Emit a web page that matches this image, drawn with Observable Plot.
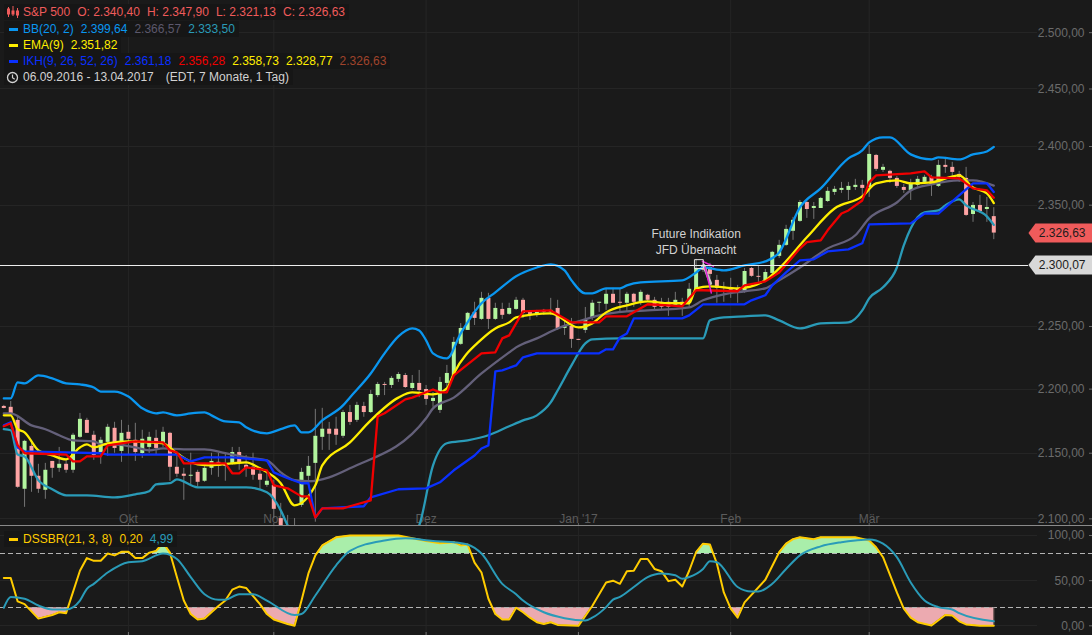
<!DOCTYPE html>
<html><head><meta charset="utf-8">
<script src="https://cdn.jsdelivr.net/npm/d3@7"></script>
<script src="https://cdn.jsdelivr.net/npm/@observablehq/plot@0.6"></script>
<style>
html,body{margin:0;padding:0;background:#1a1a1a}
#wrap{position:relative;width:1092px;height:635px;overflow:hidden;font:12px "Liberation Sans",Arial,sans-serif}
#wrap svg{display:block}
.leg{position:absolute;left:4px;height:16px;line-height:16px;white-space:nowrap;background:#161616;padding:0 4px 0 19px;display:flex;gap:7px}
.dash{position:absolute;left:5px;top:6.5px;width:9px;height:3px}
.ic{position:absolute;left:2px;top:2px}
</style></head><body>
<div id="wrap">
<div id="top"></div><div id="bottom"></div>
<div class="leg" style="top:4px;color:#ef5b5b"><svg class="ic" width="14" height="12" viewBox="0 0 14 12"><g stroke="#ef5b5b" fill="#ef5b5b"><path d="M2.5 1v10M7 0v10M11.500 2v10"/><rect x="1.500" y="3" width="2" height="5"/><rect x="6" y="5" width="2" height="3"/><rect x="10.500" y="5" width="2" height="4"/></g></svg><span>S&amp;P 500</span><span>O: 2.340,40</span><span>H: 2.347,90</span><span>L: 2.321,13</span><span>C: 2.326,63</span></div>
<div class="leg" style="top:21px;color:#0a96f0"><i class="dash" style="background:#0a96f0"></i><span>BB(20, 2)</span><span>2.399,64</span><span style="color:#5c586c">2.366,57</span><span style="color:#2a9bb8">2.333,50</span></div>
<div class="leg" style="top:37px;color:#ffee00"><i class="dash" style="background:#ffee00"></i><span>EMA(9)</span><span>2.351,82</span></div>
<div class="leg" style="top:53px;color:#0a30ff"><i class="dash" style="background:#0a30ff"></i><span>IKH(9, 26, 52, 26)</span><span>2.361,18</span><span style="color:#f00000">2.356,28</span><span style="color:#ffee00">2.358,73</span><span style="color:#ffee00">2.328,77</span><span style="color:#a0442c">2.326,63</span></div>
<div class="leg" style="top:69px;color:#d2d2d2"><svg class="ic" width="13" height="13" viewBox="0 0 13 13"><circle cx="6.500" cy="6.500" r="5" fill="none" stroke="#d2d2d2" stroke-width="1.300"/><path d="M6.500 3.500v3.200l2.200 1.500" fill="none" stroke="#d2d2d2" stroke-width="1.200"/></svg><span>06.09.2016 - 13.04.2017</span><span style="margin-left:5px">(EDT, 7 Monate, 1 Tag)</span></div>
<div class="leg" style="top:531px;color:#ffcc00"><i class="dash" style="background:#ffcc00"></i><span>DSSBR(21, 3, 8)</span><span>0,20</span><span style="color:#2a9bb8">4,99</span></div>
</div>
<script>
const monthTicks=[18,39,61,83,105,125];
const monthLabels=["Okt","Nov","Dez","Jan '17","Feb","Mär"];
const priceTicks=[2100,2150,2200,2250,2300,2350,2400,2450,2500];
const dssTicks=[0,50,100];
const dssLevels=[20,80];
const lastClose=2326.63, markedPrice=2300.07;

const candleDirs=("rrrgrrgrgr"+"ggrrggrgrr"+"ggrgrrrgrg"+"grrgrrrrgr"+"rrgggggrrg"+"rgrggrggrg"+"rrggggggrg"+"rgrggrrgrg"+"rgrrggggrr"+"grgrrrrgrg"+"grrrgrrgrr"+"ggggggrggg"+"ggggrgrgrr"+"rgggrgrrrr"+"grgr").split("");
const highs=[2187.2,2190.3,2179.4,2160,2157.7,2141.5,2142.2,2143.7,2154.5,2144.5,
2165.4,2180.9,2177.1,2167,2162.3,2172.4,2174,2175.5,2171.6,2173.2,
2167.8,2166.2,2167.8,2170.1,2166.2,2150,2138.4,2150,2136.9,2142.2,
2150,2150,2150,2154.5,2154.5,2148.3,2150,2139.2,2136.9,2129.3,
2111.7,2102.6,2100.2,2138.4,2147.5,2184.1,2184.9,2173.9,2177.9,2183.3,
2187.2,2189.6,2189.6,2199,2205.3,2205.3,2210,2213.2,2212.4,2210.8,
2214.8,2202.9,2197.4,2209.3,2218.8,2241.2,2252.3,2261.4,2269.6,2277.7,
2276.9,2268.8,2268.8,2268.8,2273.6,2272.8,2263,2263,2263.8,2272.8,
2271.2,2256.5,2256.5,2239.6,2265.4,2271.2,2269.6,2280.2,2281,2280.2,
2277.7,2276.9,2279.4,2276.1,2273.6,2272.8,2272.8,2277.7,2272.8,2285,
2304.8,2302.3,2301.5,2291.6,2285.9,2289.2,2283.4,2297.3,2298.1,2298.9,
2296.5,2311.4,2320.6,2333.1,2339.8,2354,2353.1,2352.3,2356.6,2365,
2365.9,2369.3,2369.3,2371.9,2371,2400.9,2393.2,2384.7,2379.6,2374.4,
2367.6,2371.9,2374.4,2375.3,2375.3,2388.1,2390.6,2386.4,2378.7,2382.1,
2352.3,2358.3,2356.6,2347.9];
const bodyTops=[2186.4,2185.7,2175.5,2159.2,2155.3,2132.3,2136.9,2143.7,2141.5,2141.5,
2163.9,2176.3,2175.5,2163.9,2160,2170.1,2169.3,2165.4,2166.2,2160,
2160.8,2162.3,2161.5,2166.2,2165.4,2139.2,2133.9,2133.1,2135.3,2138.4,
2143.7,2143,2141.5,2150.6,2150.6,2140.7,2139.2,2133.9,2128.5,2125.4,
2100.2,2092.5,2092.5,2135.3,2139.9,2163.1,2168.6,2168.6,2168.6,2181.6,
2181.6,2187.2,2186.4,2195.8,2203.7,2203.7,2208.5,2211.6,2210.8,2204.5,
2204.5,2199.7,2192.7,2205.3,2212.4,2237.2,2248.4,2260.6,2261.4,2272.8,
2272.8,2264.6,2263.8,2264.6,2271.2,2271.2,2261.4,2262.2,2263,2263,
2264.6,2250,2250,2239.6,2254.9,2268.8,2269.6,2276.1,2276.1,2269.6,
2276.1,2276.1,2277.7,2275.3,2271.2,2269.6,2269.6,2271.2,2269.6,2280.2,
2297.3,2299.8,2298.1,2287.5,2281.8,2281,2280.2,2294.8,2297.3,2290.8,
2294,2310.6,2316.4,2329.7,2337.3,2352.3,2352.3,2348.9,2355.7,2361.7,
2363.4,2364.2,2365.9,2366.8,2366.8,2393.2,2392.3,2382.1,2378.7,2372.7,
2365,2367.6,2371.9,2373.6,2373.6,2383.8,2383.8,2382.1,2376.1,2372.7,
2349.8,2349.8,2348.1,2340.4];
const bodyBottoms=[2184.8,2180.2,2123.9,2122.4,2132.3,2122.4,2121.6,2138.4,2138.4,2136.9,
2136.9,2162.3,2165.4,2148.3,2150.6,2158.4,2153.7,2151.4,2160.8,2150.6,
2149.8,2154.5,2153.7,2157.6,2139.2,2133.9,2132.3,2132.3,2127.7,2128.5,
2138.4,2139.9,2139.9,2142.2,2142.2,2138.4,2133.1,2129.3,2125.4,2107.2,
2089.7,2087,2088,2110.2,2132.3,2142.2,2162.3,2164.7,2163.9,2163.1,
2173.9,2175.5,2181.6,2181.6,2194.9,2202.9,2202.9,2207.7,2201.3,2200.5,
2198.9,2191.9,2190.3,2183.3,2204.5,2210.8,2235.6,2246.8,2256.5,2255.7,
2255.7,2255.7,2259,2259.8,2263.8,2260.6,2259.8,2259.8,2261.4,2261.4,
2248.4,2248.4,2239.6,2238.8,2246.8,2256.5,2268.8,2268,2268.8,2268.8,
2268.8,2269.6,2269.6,2271.2,2265.5,2265.5,2265.5,2267.1,2267.1,2268.8,
2279.4,2295.7,2292.4,2281,2281,2279.4,2277.7,2278.6,2290.8,2290,
2286.7,2293.2,2307.3,2316.4,2328.1,2336.4,2346.4,2347.2,2347.2,2353.1,
2360.8,2362.5,2362.5,2365,2364.2,2365,2380.4,2379.6,2372.7,2365.9,
2362.5,2362.5,2366.8,2369.3,2366.8,2365.9,2382.1,2377.8,2373.6,2341.4,
2342.2,2344.7,2346.4,2326.63];
const lows=[2184.5,2179.4,2123.1,2108.7,2120.1,2119.3,2114.8,2130.8,2135.3,2134.6,
2134.6,2161.5,2165.4,2144.5,2141.5,2147.5,2150,2143,2148.3,2143.7,
2146,2149.8,2148.3,2154.5,2128.5,2131.5,2114,2125.4,2123.9,2127.7,
2133.1,2131.5,2128.5,2140.7,2136.9,2131.5,2129.3,2121.6,2123.9,2100.2,
2088,2084,2085,2108.7,2126.2,2097.5,2152.2,2152.2,2156.1,2161.5,
2171.6,2173.9,2177.9,2180.9,2193.3,2194.9,2200.5,2205.3,2200.5,2198.9,
2193.3,2187.2,2185.7,2180.9,2197.4,2210.8,2234.8,2246.8,2250.8,2254.9,
2247.6,2254.9,2255.7,2259,2263,2256.5,2254.9,2257.3,2259,2259,
2246.8,2242.8,2232.4,2238.8,2244.4,2254.9,2261.4,2263,2268.8,2261.4,
2261.4,2265.5,2267.1,2269.6,2263,2263,2258.2,2265.5,2258.2,2265.5,
2279.4,2294,2289.2,2268.8,2269.6,2272.8,2268.8,2276.9,2290,2285.9,
2285.9,2291.6,2305.6,2315.6,2320.6,2335.6,2338.9,2338.1,2347.2,2352.3,
2358.3,2360,2354,2362.5,2356.6,2356.6,2378.7,2377.8,2368.5,2364.2,
2360,2354,2365,2367.6,2357.4,2365,2377,2373.6,2369.3,2340.6,
2335.6,2343,2335.6,2321.13];

const bbUpperIdx=[0,1,2,3,5,7,9,11,13,14,16,18,20,22,23,25,27,29,30,32,34,35,38,40,42,43,44,46,49,50,53,55,57,59,60,61,62,64,66,69,71,74,77,79,81,82,84,85,87,89,90,92,98,100,101,104,107,110,112,115,118,122,124,125,127,128,131,134,135,138,140,142,143];
const bbUpperVal=[2192.7,2192.7,2205.3,2204.5,2210.8,2208.5,2204.5,2203.7,2201.3,2198.1,2198.1,2194.2,2184.9,2181,2181.8,2179.4,2181,2181.8,2179.4,2174.7,2174,2170.1,2165.4,2168.6,2171.6,2166.2,2166.2,2175.5,2187.2,2193.5,2212.4,2228.4,2242,2248.4,2246.8,2238.8,2228.4,2224.4,2244.4,2268.8,2277.7,2290.8,2298.1,2300.6,2295.7,2287.5,2276.9,2276.9,2281,2281,2283.4,2285.9,2287.5,2294,2298.1,2295.7,2299.8,2303.1,2310.6,2348.1,2364.2,2389.8,2396.6,2403.5,2407.8,2407.8,2393.2,2388.9,2390.6,2388.9,2393.2,2395.7,2399.64];
const bbMidIdx=[0,1,4,6,8,10,13,14,16,19,21,23,26,29,32,35,38,40,42,44,47,50,61,62,65,69,73,74,77,80,83,86,90,93,99,101,104,107,110,112,115,119,123,125,129,131,134,138,140,143];
const bbMidVal=[2181,2181,2171.6,2168.6,2163.9,2160,2159.2,2156.9,2156.9,2154.5,2152.2,2153.7,2153,2153,2150,2146.8,2144.5,2135.3,2129.3,2128.5,2131.5,2138.4,2177.1,2184.9,2193.3,2212.4,2229.2,2233.2,2240.4,2248.4,2254.1,2259,2262.2,2263,2265.5,2271.2,2276.1,2278.6,2281,2287.5,2298.1,2313.9,2324.8,2338.9,2352.3,2362.5,2367.6,2371,2371,2366.57];
const bbLowerIdx=[0,1,2,3,5,7,9,12,16,19,21,22,24,25,28,30,33,35,38,40,41,43,50,57,60,62,64,67,70,73,75,77,79,80,82,84,85,89,95,101,102,104,107,110,112,115,118,122,124,125,127,129,130,132,133,135,136,138,139,142,143];
const bbLowerVal=[2168.6,2167.8,2149,2147.5,2129.3,2122.4,2117.8,2117.8,2116.3,2118.6,2120.9,2126.2,2127,2130,2123.9,2123.9,2123.9,2123.9,2120.1,2106.4,2095,2075,2055,2075,2095,2140.7,2157.7,2160,2163.9,2170.9,2175.5,2179.4,2189.5,2198.9,2218.8,2236.4,2239.6,2240.4,2240.4,2240.4,2254.9,2257.3,2258.2,2259,2254.9,2248.4,2252.5,2253.3,2263,2272.8,2281.8,2298.1,2316.4,2339.8,2344,2345.6,2349.8,2355,2349.8,2340.6,2333.5];
const emaIdx=[0,1,2,3,5,7,9,11,12,13,15,18,21,23,25,28,30,33,35,37,40,42,45,46,50,53,57,59,62,64,65,69,71,73,74,79,83,85,87,90,93,96,99,100,102,106,110,112,116,120,124,126,129,131,134,138,140,142,143];
const emaVal=[2179.4,2179.4,2168.6,2166.2,2152.2,2148.3,2145.3,2154.5,2156.9,2154.5,2157.7,2159.2,2158.4,2157.7,2150,2141.5,2140.7,2142.2,2143,2138.4,2127,2110.2,2125.4,2140.7,2158.4,2175.5,2193.3,2197.4,2195.8,2200.5,2212.4,2239.6,2248.4,2253.3,2257.3,2260.6,2249.2,2252.5,2261.4,2267.1,2270.4,2268.8,2268.8,2281,2282.6,2281,2287.5,2297.3,2323.1,2347.2,2357.4,2368.5,2371,2368.5,2369.3,2375.3,2365,2360,2351.82];
const ikhBlueIdx=[0,1,2,3,9,14,15,25,27,29,33,38,39,41,43,44,45,46,52,53,57,61,63,65,68,69,70,71,72,74,75,77,86,87,88,89,90,91,98,99,101,107,108,110,111,113,115,117,119,122,124,125,131,133,135,138,140,142,143];
const ikhBlueVal=[2171.6,2174,2154.5,2151.4,2150.6,2150,2149,2149,2143.7,2146.8,2146.8,2144.5,2135.3,2130.8,2127,2127,2101,2107.9,2109.5,2116.3,2122.4,2123.1,2127.7,2136.9,2148.3,2153.7,2156.1,2214,2214.8,2218.8,2225.2,2228.4,2228.4,2231.6,2231.6,2241.2,2244.4,2256.5,2256.5,2259,2267.9,2267.9,2271.2,2275.3,2283.4,2294,2304,2304.8,2311.4,2313.1,2318.1,2333.9,2334.7,2343,2343,2358.3,2368.5,2368.5,2361.18];
const ikhRedIdx=[0,1,2,3,9,10,11,12,14,15,19,23,24,25,26,32,33,34,35,37,38,39,41,43,44,45,46,49,50,53,54,55,58,59,62,63,64,65,69,71,72,73,75,79,82,86,87,90,93,96,98,99,100,101,106,107,110,112,115,116,118,119,121,122,124,125,126,131,133,134,138,140,142,143];
const ikhRedVal=[2170.9,2173.2,2156.1,2150,2149,2143.7,2143.7,2147.6,2147.6,2156.1,2159.2,2158.4,2152.2,2150.6,2142.2,2142.2,2134.6,2134.6,2139.2,2137.7,2136.9,2125.4,2123.1,2117,2117,2101,2107.9,2107.9,2109.5,2114,2178.6,2181,2191.9,2193.3,2199.7,2197.4,2197.4,2210.8,2228.4,2229.2,2240.4,2242.8,2262.2,2263,2253.3,2253.3,2258.2,2258.2,2268,2267.1,2266.3,2272.8,2279.4,2279.4,2278.6,2283.4,2286.7,2294,2313.9,2319,2320.6,2328.9,2343,2345.6,2354,2369.3,2375.3,2377,2378.7,2373.6,2372.7,2364.2,2362.5,2356.28];

const dssIdx=[0,1,2,3,5,7,8,9,11,12,13,14,15,16,17,18,19,20,21,22,23,24,25,26,27,28,29,31,32,33,34,35,37,38,39,41,42,43,44,45,46,48,50,57,61,63,65,66,67,68,69,70,71,72,73,74,75,76,77,78,79,80,83,85,87,88,89,90,91,92,93,94,95,96,97,98,99,100,101,102,103,104,105,106,107,110,112,113,114,115,117,118,123,125,126,127,129,130,131,132,134,136,137,138,139,141,143];
const dssVal=[53,53,27,24,8,12,15,14,61,75,72,72,80,78,82,82,75,75,81,83,92,81,54,28,13,7,8,22,28,40,43.5,42,24,13,7,2,0,28,58,78,89,98,100,100,94,91.5,92.6,89,90,70,59,30,13,7,7,20,15,9,4,2,4,1,0,22,48,50,46.5,60.5,61,74,74,63,60.5,49.5,51,43.5,61,81.5,91,90,69,37,19,9,26,51,81.5,91,96,98,96,98,98,94.5,87,76,37,19,9,4,0.4,12,11.4,5,1.5,0,0.2];
const signalIdx=[0,1,3,5,7,9,11,12,13,15,18,20,23,25,27,29,31,32,34,36,38,42,43,45,48,50,55,58,62,65,67,69,72,74,75,78,81,84,85,87,88,89,91,93,95,97,98,99,101,102,103,106,108,109,111,113,115,118,121,123,125,127,129,131,133,135,137,138,143];
const signalVal=[20,32,30,22.5,18,18,28,41,46.5,59,70.5,71.6,80,74,54,35,29,29,35,35,28,12,13,33.6,67,83,94.5,97,94,92.6,90,80,46.5,35,28,15,8.5,6,9,20.7,29,32,43,54,58,56,52,54,63,71.6,70.5,43,38,38,46.5,63,78,88,92.6,94.5,95.6,91,76,48,28,20.7,18,14,4.99];

const annotationLines=["Future Indikation","JFD Übernacht"];
const annotationIdx=[100,100], annotationY=[2325.6,2312.3];
const markerIdx=100.4, markerPrice=2300.9;
const grayArrowIdx=[101.1,102.1], grayArrowY=[2299.8,2285];
const pinkArrowAIdx=[100.9,102.5], pinkArrowAY=[2303.2,2299];
const pinkArrowBIdx=[101.3,102.2], pinkArrowBY=[2298.1,2277.2];

const W=1092, INNER_R=4;
const xDomain=[-0.477,156.68];
const bg="#1a1a1a", grid="#252525", tickColor="#6b6b6b";
const fmt=d=>d.toLocaleString("de-DE",{minimumFractionDigits:2,maximumFractionDigits:2});
const tagIdx=148, tagTextIdx=156.25, xEnd=157.26, gridEnd=149.3;
const tagSymbol={draw(c){c.moveTo(0,0);c.lineTo(7,-9.5);c.lineTo(64,-9.5);c.lineTo(64,9.5);c.lineTo(7,9.5);c.closePath();}};
const rows=(idx,val)=>val.map((v,i)=>({i:idx[i],v}));
const style={background:bg,fontFamily:"'Liberation Sans',Arial,sans-serif",fontSize:"12px",display:"block"};
const candles=highs.map((h,i)=>({i,h,t:bodyTops[i],b:bodyBottoms[i],l:lows[i],up:candleDirs[i]==="g"}));
const ln=(idx,val,stroke,w=2.3,curve="linear")=>Plot.line(rows(idx,val),{x:"i",y:"v",stroke,strokeWidth:w,curve,clip:true});

const topPlot=Plot.plot({
  width:W,height:526,marginLeft:0,marginRight:INNER_R,marginTop:0,marginBottom:0,style,
  x:{type:"linear",domain:xDomain,range:[0,W-INNER_R]},
  y:{type:"log",domain:[2095,2529],range:[525,0]},
  marks:[
    Plot.ruleY(priceTicks,{x1:xDomain[0],x2:gridEnd,stroke:grid,shapeRendering:"crispEdges"}),
    Plot.ruleX(monthTicks,{stroke:grid}),
    Plot.axisY(priceTicks,{anchor:"right",tickSize:4,tickPadding:-8,textAnchor:"end",tickFormat:fmt,label:null,stroke:tickColor,fill:tickColor,fontSize:12}),
    Plot.axisX(monthTicks,{anchor:"bottom",tickSize:-3,tickPadding:-1,lineAnchor:"bottom",tickFormat:d=>monthLabels[monthTicks.indexOf(d)],label:null,stroke:"#5c5c5c",fill:"#5c5c5c",fontSize:12}),
    Plot.ruleX(candles,{x:"i",y1:"l",y2:"h",stroke:"#757575",strokeWidth:1,clip:true}),
    Plot.ruleX(candles,{x:"i",y1:"b",y2:"t",stroke:d=>d.up?"#b2f59e":"#ffa4a4",strokeWidth:4,clip:true}),
    ln(bbLowerIdx,bbLowerVal,"#2a9bb8",2.3,"monotone-x"),
    ln(bbUpperIdx,bbUpperVal,"#0a96f0",2.3,"monotone-x"),
    ln(bbMidIdx,bbMidVal,"#64607a",2.3,"monotone-x"),
    ln(emaIdx,emaVal,"#ffee00",2.3,"monotone-x"),
    ln(ikhBlueIdx,ikhBlueVal,"#0a30ff"),
    ln(ikhRedIdx,ikhRedVal,"#f00000"),
    Plot.line(grayArrowIdx,{x:d=>d,y:(d,i)=>grayArrowY[i],stroke:"#c4c4c4",strokeWidth:3}),
    Plot.line(pinkArrowAIdx,{x:d=>d,y:(d,i)=>pinkArrowAY[i],stroke:"#e020d0",strokeWidth:1.5}),
    Plot.line(pinkArrowBIdx,{x:d=>d,y:(d,i)=>pinkArrowBY[i],stroke:"#e020d0",strokeWidth:1.5}),
    Plot.ruleY([markedPrice],{x1:xDomain[0],x2:tagIdx,stroke:"#ededed",strokeWidth:1,shapeRendering:"crispEdges"}),
    Plot.dot([markerPrice],{x:markerIdx,y:d=>d,symbol:"square",r:5,stroke:"#e0e0e0",fill:"none",strokeWidth:1}),
    Plot.text(annotationLines,{x:(d,i)=>annotationIdx[i],y:(d,i)=>annotationY[i],text:d=>d,fill:"#d2d2d2",fontSize:12}),
    Plot.dot([lastClose],{x:tagIdx,y:d=>d,symbol:tagSymbol,r:5,fill:"#ef5b5b",stroke:"none"}),
    Plot.dot([markedPrice],{x:tagIdx,y:d=>d,symbol:tagSymbol,r:5,fill:"#d8d8d8",stroke:"none"}),
    Plot.text([lastClose,markedPrice],{x:tagTextIdx,y:d=>d,text:fmt,textAnchor:"end",fill:"#1c1c1c",fontSize:12}),
    Plot.ruleY([2095],{x1:xDomain[0],x2:xEnd,stroke:"#8a8a8a",strokeWidth:1})
  ]
});

// fill bands of the oscillator beyond its levels, cut where the line crosses the level
function band(level,isOut){
  const out=[];
  dssVal.forEach((v,k)=>{
    if(k>0){
      const u=dssVal[k-1];
      if(isOut(u)!==isOut(v)){
        const a=dssIdx[k-1],b=dssIdx[k];
        out.push({i:a+(b-a)*(level-u)/(v-u),v:level});
      }
    }
    out.push({i:dssIdx[k],v:isOut(v)?v:level});
  });
  return out;
}
const bottomPlot=Plot.plot({
  width:W,height:109,marginLeft:0,marginRight:INNER_R,marginTop:0,marginBottom:3,style,
  x:{type:"linear",domain:xDomain,range:[0,W-INNER_R]},
  y:{type:"linear",domain:[-7.4,110],range:[106,0]},
  marks:[
    Plot.ruleY(dssTicks,{x1:xDomain[0],x2:gridEnd,stroke:grid,shapeRendering:"crispEdges"}),
    Plot.ruleX(monthTicks,{stroke:grid}),
    Plot.axisY(dssTicks,{anchor:"right",tickSize:4,tickPadding:-8,textAnchor:"end",tickFormat:fmt,label:null,stroke:tickColor,fill:tickColor,fontSize:12}),
    Plot.axisX(monthTicks,{anchor:"bottom",tickSize:3,tickFormat:()=>"",label:null,stroke:"#777"}),
    Plot.areaY(band(80,v=>v>80),{x:"i",y1:()=>80,y2:"v",fill:"#a9eeaa",clip:true}),
    Plot.areaY(band(20,v=>v<20),{x:"i",y1:()=>20,y2:"v",fill:"#ecaab0",clip:true}),
    Plot.ruleY(dssLevels,{x1:xDomain[0],x2:xEnd,stroke:"#b4b4b4",strokeDasharray:"5,3",strokeWidth:1,shapeRendering:"crispEdges"}),
    Plot.ruleX([143],{y1:0,y2:20,stroke:"#8a6a6a",strokeWidth:1}),
    ln(dssIdx,dssVal,"#ffcc00",2),
    ln(signalIdx,signalVal,"#2a9bb8",2,"monotone-x")
  ]
});
document.getElementById("top").append(topPlot);
document.getElementById("bottom").append(bottomPlot);
</script>
</body></html>
